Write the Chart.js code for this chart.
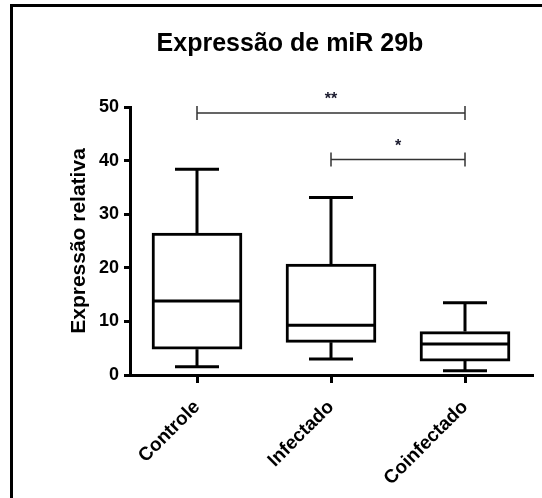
<!DOCTYPE html>
<html>
<head>
<meta charset="utf-8">
<script src="https://cdn.jsdelivr.net/npm/chart.js@4"></script>
<style>
  html, body { margin: 0; padding: 0; background: #fff; }
  #caixa { width: 542px; height: 498px; }
</style>
</head>
<body>
<div id="caixa"><canvas id="grafico"></canvas></div>
<script>
// dados
var categorias = ['Controle', 'Infectado', 'Coinfectado'];
var minimo  = [1.55, 3.0, 0.8];
var q1      = [4.8, 6.1, 2.6];
var mediana = [13.8, 9.3, 5.8];
var q3      = [26.5, 20.7, 8.1];
var maximo  = [38.4, 33.1, 13.5];

// barras de significância
var sigInicio = [0, 1];
var sigFim    = [2, 2];
var sigNivel  = [48.9, 40.2];
var sigTexto  = ['**', '*'];

var fonte = 'Arial, "Liberation Sans", sans-serif';
Chart.defaults.font.family = fonte;
Chart.defaults.color = '#000';

var boxPlugin = {
    id: 'boxplot',
    beforeDraw: function (chart) {
        var ctx = chart.ctx;
        ctx.save();
        ctx.fillStyle = '#000';
        ctx.fillRect(10, 4, 532, 3);
        ctx.fillRect(10, 4, 3, 494);
        ctx.restore();
    },
    afterDatasetsDraw: function (chart) {
        var ctx = chart.ctx;
        var x = chart.scales.x, y = chart.scales.y;
        var meta = chart.getDatasetMeta(0);
        ctx.save();
        ctx.strokeStyle = '#000';
        ctx.lineWidth = 3;
        for (let i = 0; i < categorias.length; i++) {
            var cx = x.getPixelForValue(i);
            var meia = meta.data[i].width / 2;
            var cap = 22;
            ctx.beginPath();
            // mediana
            ctx.moveTo(cx - meia, y.getPixelForValue(mediana[i]));
            ctx.lineTo(cx + meia, y.getPixelForValue(mediana[i]));
            // bigodes
            ctx.moveTo(cx, y.getPixelForValue(q3[i]));
            ctx.lineTo(cx, y.getPixelForValue(maximo[i]));
            ctx.moveTo(cx - cap, y.getPixelForValue(maximo[i]));
            ctx.lineTo(cx + cap, y.getPixelForValue(maximo[i]));
            ctx.moveTo(cx, y.getPixelForValue(q1[i]));
            ctx.lineTo(cx, y.getPixelForValue(minimo[i]));
            ctx.moveTo(cx - cap, y.getPixelForValue(minimo[i]));
            ctx.lineTo(cx + cap, y.getPixelForValue(minimo[i]));
            ctx.stroke();
        }
        // significância
        ctx.strokeStyle = '#333';
        ctx.lineWidth = 1.5;
        ctx.fillStyle = '#1a1a2e';
        ctx.font = 'bold 16px ' + fonte;
        ctx.textAlign = 'center';
        ctx.textBaseline = 'middle';
        for (let s = 0; s < sigTexto.length; s++) {
            var xa = x.getPixelForValue(sigInicio[s]);
            var xb = x.getPixelForValue(sigFim[s]);
            var yy = y.getPixelForValue(sigNivel[s]);
            ctx.beginPath();
            ctx.moveTo(xa, yy); ctx.lineTo(xb, yy);
            ctx.moveTo(xa, yy - 7); ctx.lineTo(xa, yy + 7);
            ctx.moveTo(xb, yy - 7); ctx.lineTo(xb, yy + 7);
            ctx.stroke();
            ctx.fillText(sigTexto[s], (xa + xb) / 2, yy - 13);
        }
        ctx.restore();
    }
};

var ctx = document.getElementById('grafico').getContext('2d');
var grafico = new Chart(ctx, {
    type: 'bar',
    data: {
        labels: categorias,
        datasets: [{
            data: categorias.map(function (c, i) { return [q1[i], q3[i]]; }),
            backgroundColor: '#fff',
            borderColor: '#000',
            borderWidth: 3,
            borderSkipped: false,
            barThickness: 90
        }]
    },
    options: {
        responsive: true,
        maintainAspectRatio: false,
        animation: false,
        layout: { padding: { left: 48, right: 10, top: 0, bottom: 0 } },
        plugins: {
            legend: { display: false },
            tooltip: { enabled: false },
            title: {
                display: true,
                text: 'Expressão de miR 29b',
                color: '#000',
                font: { size: 25, weight: 'bold' },
                padding: { top: 29, bottom: 48 }
            }
        },
        scales: {
            x: {
                grid: { drawOnChartArea: false, drawTicks: true, tickLength: 8, offset: false, color: '#000', lineWidth: 3 },
                border: { display: true, color: '#000', width: 3 },
                ticks: { font: { size: 19, weight: 'bold' }, minRotation: 45, maxRotation: 45, padding: 13, color: '#000' },
                afterFit: function (s) { s.height = 123; }
            },
            y: {
                min: 0,
                max: 50,
                ticks: { stepSize: 10, font: { size: 18, weight: 'bold' }, padding: 5, color: '#000' },
                grid: { drawOnChartArea: false, drawTicks: true, tickLength: 6, color: '#000', lineWidth: 3 },
                border: { display: true, color: '#000', width: 3 },
                title: {
                    display: true,
                    text: 'Expressão relativa',
                    color: '#000',
                    font: { size: 21, weight: 'bold' },
                    padding: { top: 19, bottom: 0 }
                },
                afterFit: function (s) { s.width = 82; }
            }
        }
    },
    plugins: [boxPlugin]
});
</script>
</body>
</html>
